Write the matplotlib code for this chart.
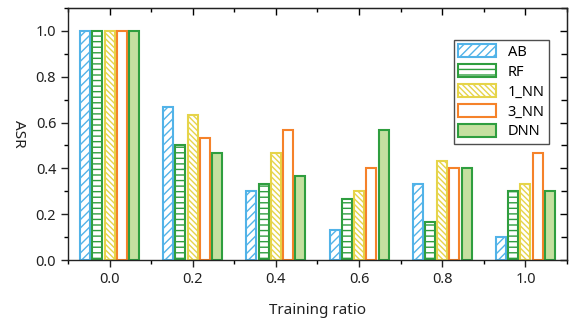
import numpy as np
import matplotlib
matplotlib.use("Agg")
import matplotlib.pyplot as plt
from matplotlib.ticker import MultipleLocator

plt.rcParams["font.family"] = ["Noto Sans", "DejaVu Sans"]
plt.rcParams["hatch.linewidth"] = 1.0

ratios = [0.0, 0.2, 0.4, 0.6, 0.8, 1.0]
models = ["AB", "RF", "1_NN", "3_NN", "DNN"]
asr_ab = [1.0, 0.667, 0.300, 0.133, 0.333, 0.100]
asr_rf = [1.0, 0.500, 0.333, 0.267, 0.167, 0.300]
asr_1nn = [1.0, 0.633, 0.467, 0.300, 0.433, 0.333]
asr_3nn = [1.0, 0.533, 0.567, 0.400, 0.400, 0.467]
asr_dnn = [1.0, 0.467, 0.367, 0.567, 0.400, 0.300]

series = [asr_ab, asr_rf, asr_1nn, asr_3nn, asr_dnn]
edge_colors = ["#52b3e8", "#2f9e3f", "#e6d44a", "#f5822a", "#2f9e3f"]
face_colors = ["white", "white", "white", "white", "#c5e0a0"]
hatches = ["////", "---", "\\\\\\\\\\\\", None, None]

fig = plt.figure(figsize=(5.71, 3.24), dpi=100)
ax = fig.add_axes([0.119, 0.1975, 0.874, 0.778])

x = np.array(ratios)
pitch = 0.0294
width = 0.024
for i, (vals, name) in enumerate(zip(series, models)):
    ax.bar(x + (i - 2) * pitch, vals, width=width, color=face_colors[i],
           edgecolor=edge_colors[i], hatch=hatches[i], linewidth=1.5,
           label=name)

ax.set_xlim(-0.1, 1.1)
ax.set_ylim(0, 1.1)
ax.xaxis.set_major_locator(MultipleLocator(0.2))
ax.xaxis.set_minor_locator(MultipleLocator(0.1))
ax.yaxis.set_major_locator(MultipleLocator(0.2))
ax.yaxis.set_minor_locator(MultipleLocator(0.1))
ax.xaxis.set_major_formatter(lambda v, p: f"{v:.1f}")
ax.yaxis.set_major_formatter(lambda v, p: f"{v:.1f}")
ax.tick_params(which="major", direction="out", length=5, width=1.0,
               labelsize=10.5, colors="#222222")
ax.tick_params(which="minor", direction="out", length=3, width=1.0)
for s in ax.spines.values():
    s.set_linewidth(1.0)
    s.set_color("#222222")

top = ax.secondary_xaxis("top")
top.xaxis.set_major_locator(MultipleLocator(0.2))
top.xaxis.set_minor_locator(MultipleLocator(0.1))
top.tick_params(which="major", direction="in", length=5, width=1.0, labeltop=False)
top.tick_params(which="minor", direction="in", length=3, width=1.0)
right = ax.secondary_yaxis("right")
right.yaxis.set_major_locator(MultipleLocator(0.2))
right.yaxis.set_minor_locator(MultipleLocator(0.1))
right.tick_params(which="major", direction="in", length=5, width=1.0, labelright=False)
right.tick_params(which="minor", direction="in", length=4, width=1.0)

ax.set_xlabel("Training ratio", fontsize=11, labelpad=12, color="#222222")
ax.set_ylabel("ASR", fontsize=11, labelpad=12, rotation=270,
              va="center", color="#222222")

leg = ax.legend(loc="upper right", bbox_to_anchor=(0.964, 0.873),
                borderaxespad=0, fancybox=False, edgecolor="#222222",
                fontsize=10.5, handlelength=2.6, handleheight=1.0,
                labelspacing=0.3, handletextpad=0.8, borderpad=0.3)
leg.get_frame().set_linewidth(1.0)

fig.savefig("out.png", dpi=100)
